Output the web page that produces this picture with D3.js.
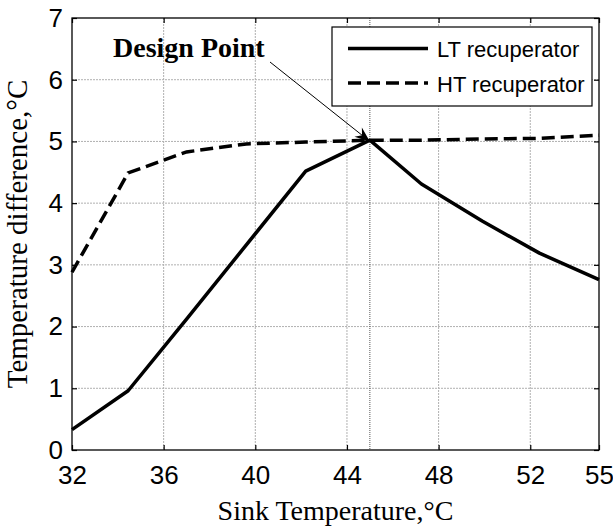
<!DOCTYPE html>
<html>
<head>
<meta charset="utf-8">
<script src="https://cdn.jsdelivr.net/npm/d3@7"></script>
<style>
  html, body { margin: 0; padding: 0; background: #fff; }
  svg { display: block; }
</style>
</head>
<body>
<svg id="chart" width="613" height="527"></svg>
<script>
// Sink temperature (°C) at which each case was evaluated
const sinkTemp = [32, 34.45, 37.0, 39.6, 42.2, 45.0, 47.25, 49.9, 52.4, 55];
// Minimum temperature difference in each recuperator (°C)
const ltDiff = [0.33, 0.96, 2.12, 3.32, 4.52, 5.02, 4.31, 3.71, 3.19, 2.76];
const htDiff = [2.88, 4.49, 4.83, 4.96, 4.99, 5.02, 5.02, 5.04, 5.05, 5.10];

const xTicks = [32, 36, 40, 44, 48, 52, 55];
const yTicks = [0, 1, 2, 3, 4, 5, 6, 7];
const seriesNames = ["LT recuperator", "HT recuperator"];
const designPoint = { t: 45, d: 5.0, label: "Design Point" };

const svg = d3.select("#chart");
const plot = { left: 72, right: 599, top: 18, bottom: 450 };

const x = d3.scaleLinear().domain([32, 55]).range([plot.left, plot.right]);
const y = d3.scaleLinear().domain([0, 7]).range([plot.bottom, plot.top]);

const sans = "'Liberation Sans', Arial, sans-serif";
const serif = "'Liberation Serif', 'Times New Roman', serif";

// grid
const grid = svg.append("g");
grid.selectAll("line.vx")
  .data(xTicks.filter(t => t > 32 && t < 55))
  .join("line")
  .attr("x1", d => x(d)).attr("x2", d => x(d))
  .attr("y1", plot.top).attr("y2", plot.bottom)
  .attr("stroke", "#b0b0b0").attr("stroke-width", 1)
  .attr("stroke-dasharray", "2,1");
grid.selectAll("line.hy")
  .data(yTicks.filter(t => t > 0 && t < 7))
  .join("line")
  .attr("x1", plot.left).attr("x2", plot.right)
  .attr("y1", d => y(d)).attr("y2", d => y(d))
  .attr("stroke", "#b0b0b0").attr("stroke-width", 1)
  .attr("stroke-dasharray", "2,1");

// marker line at the design temperature
svg.append("line")
  .attr("x1", x(designPoint.t)).attr("x2", x(designPoint.t))
  .attr("y1", plot.top).attr("y2", plot.bottom)
  .attr("stroke", "#555").attr("stroke-width", 1)
  .attr("stroke-dasharray", "1,1");

// axes: inward ticks on all four sides
const tickLen = 5;
const axB = d3.axisBottom(x).tickValues(xTicks).tickSize(-tickLen).tickFormat(d3.format("d")).tickPadding(12);
const axT = d3.axisTop(x).tickValues(xTicks).tickSize(-tickLen).tickFormat("");
const axL = d3.axisLeft(y).tickValues(yTicks).tickSize(-tickLen).tickFormat(d3.format("d")).tickPadding(12);
const axR = d3.axisRight(y).tickValues(yTicks).tickSize(-tickLen).tickFormat("");

function styleAxis(g) {
  g.select(".domain").remove();
  g.selectAll(".tick line").attr("stroke", "#000").attr("stroke-width", 1.2);
  g.selectAll(".tick text").attr("fill", "#000")
    .style("font-family", sans).style("font-size", "26px");
}
svg.append("g").attr("transform", `translate(0,${plot.bottom})`).call(axB).call(styleAxis)
  .selectAll(".tick text").attr("dy", "0.71em").attr("y", 16);
svg.append("g").attr("transform", `translate(0,${plot.top})`).call(axT).call(styleAxis);
svg.append("g").attr("transform", `translate(${plot.left},0)`).call(axL).call(styleAxis)
  .selectAll(".tick text").attr("x", -9);
svg.append("g").attr("transform", `translate(${plot.right},0)`).call(axR).call(styleAxis);

// box
svg.append("rect")
  .attr("x", plot.left).attr("y", plot.top)
  .attr("width", plot.right - plot.left).attr("height", plot.bottom - plot.top)
  .attr("fill", "none").attr("stroke", "#000").attr("stroke-width", 1.3);

// series lines
const line = d3.line().x(d => x(d[0])).y(d => y(d[1]));
const ltPts = sinkTemp.map((t, i) => [t, ltDiff[i]]);
const htPts = sinkTemp.map((t, i) => [t, htDiff[i]]);
const dash = "13,6";

svg.append("path").datum(htPts).attr("d", line)
  .attr("fill", "none").attr("stroke", "#000").attr("stroke-width", 3.5)
  .attr("stroke-dasharray", dash);
svg.append("path").datum(ltPts).attr("d", line)
  .attr("fill", "none").attr("stroke", "#000").attr("stroke-width", 3.5)
  .attr("stroke-linejoin", "round");

// legend
const lg = svg.append("g");
lg.append("rect").attr("x", 332).attr("y", 27).attr("width", 260).attr("height", 79)
  .attr("fill", "#fff").attr("stroke", "#000").attr("stroke-width", 1.2);
const rows = [{ name: seriesNames[0], dash: null, yy: 48.5 }, { name: seriesNames[1], dash: dash, yy: 83 }];
rows.forEach(r => {
  lg.append("line").attr("x1", 348).attr("x2", 428).attr("y1", r.yy).attr("y2", r.yy)
    .attr("stroke", "#000").attr("stroke-width", 3.5)
    .attr("stroke-dasharray", r.dash);
  lg.append("text").attr("x", 437).attr("y", r.yy + 8.5)
    .style("font-family", sans).style("font-size", "22px").attr("fill", "#000")
    .text(r.name);
});

// design point annotation
svg.append("text").attr("x", 113).attr("y", 57)
  .style("font-family", serif).style("font-size", "28px").style("font-weight", "bold")
  .attr("fill", "#000").text(designPoint.label);

const tip = [x(designPoint.t), y(designPoint.d)];
const start = [270, 62];
const ang = Math.atan2(tip[1] - start[1], tip[0] - start[0]);
svg.append("line")
  .attr("x1", start[0]).attr("y1", start[1]).attr("x2", tip[0]).attr("y2", tip[1])
  .attr("stroke", "#000").attr("stroke-width", 1);
const headLen = 15, headW = 6, notch = 10;
const rot = (dx, dy) => [tip[0] + dx * Math.cos(ang) - dy * Math.sin(ang), tip[1] + dx * Math.sin(ang) + dy * Math.cos(ang)];
const head = [rot(0, 0), rot(-headLen, -headW), rot(-notch, 0), rot(-headLen, headW)];
svg.append("path").attr("d", "M" + head.map(p => p.join(",")).join("L") + "Z")
  .attr("fill", "#000");

// axis titles
svg.append("text")
  .attr("x", (plot.left + plot.right) / 2).attr("y", 520)
  .attr("text-anchor", "middle")
  .style("font-family", serif).style("font-size", "28px").attr("fill", "#000")
  .text("Sink Temperature,°C");
svg.append("text")
  .attr("transform", `translate(27,${(plot.top + plot.bottom) / 2}) rotate(-90)`)
  .attr("text-anchor", "middle")
  .style("font-family", serif).style("font-size", "29px").attr("fill", "#000")
  .text("Temperature difference,°C");
</script>
</body>
</html>
